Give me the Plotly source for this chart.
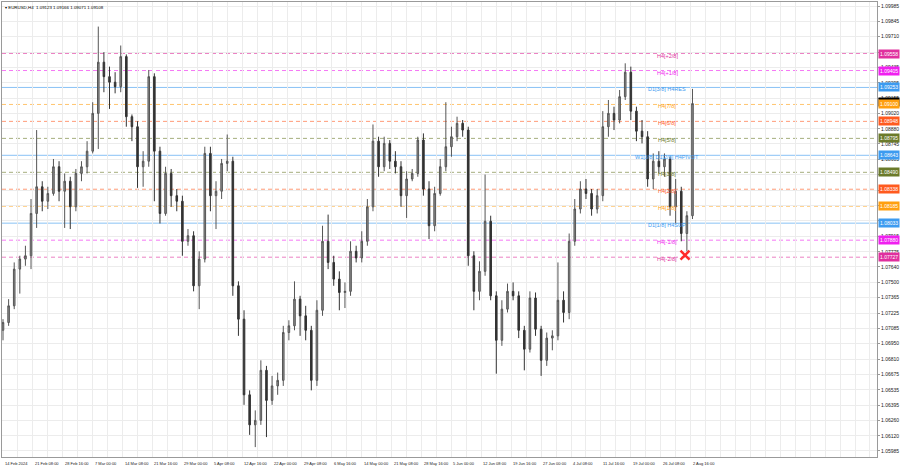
import plotly.graph_objects as go

# ---------------- data ----------------
opens = [1.0707,1.0714,1.0729,1.0762,1.0771,1.0774,1.0812,1.0836,1.0823,1.0830,
         1.0854,1.0832,1.0841,1.0818,1.0848,1.0854,1.0868,1.0902,1.0948,1.0935,
         1.0930,1.0926,1.0953,1.0899,1.0890,1.0854,1.0859,1.0935,1.0868,1.0812,
         1.0848,1.0828,1.0823,1.0787,1.0792,1.0747,1.0771,1.0866,1.0828,1.0832,
         1.0857,1.0859,1.0747,1.0717,1.0649,1.0622,1.0626,1.0671,1.0644,1.0657,
         1.0662,1.0705,1.0711,1.0735,1.0720,1.0707,1.0662,1.0725,1.0787,1.0768,
         1.0753,1.0741,1.0742,1.0778,1.0772,1.0787,1.0818,1.0877,1.0854,1.0875,
         1.0859,1.0854,1.0828,1.0843,1.0848,1.0878,1.0834,1.0801,1.0830,1.0854,
         1.0872,1.0881,1.0893,1.0887,1.0774,1.0742,1.0760,1.0805,1.0738,1.0698,
         1.0726,1.0742,1.0738,1.0707,1.0690,1.0736,1.0708,1.0680,1.0700,1.0702,
         1.0734,1.0723,1.0787,1.0816,1.0834,1.0830,1.0816,1.0828,1.0890,1.0902,
         1.0896,1.0917,1.0939,1.0904,1.0886,1.0881,1.0843,1.0859,1.0854,1.0861,
         1.0818,1.0832,1.0794,1.0810]
highs = [1.0717,1.0735,1.0768,1.0774,1.0783,1.0825,1.0887,1.0841,1.0836,1.0861,
         1.0859,1.0848,1.0845,1.0852,1.0859,1.0877,1.0912,1.0980,1.0957,1.0944,
         1.0939,1.0963,1.0955,1.0901,1.0895,1.0868,1.0941,1.0938,1.0872,1.0854,
         1.0852,1.0834,1.0828,1.0798,1.0796,1.0778,1.0872,1.0872,1.0841,1.0861,
         1.0883,1.0863,1.0751,1.0725,1.0653,1.0635,1.0680,1.0675,1.0666,1.0669,
         1.0711,1.0716,1.0751,1.0738,1.0729,1.0711,1.0734,1.0801,1.0811,1.0774,
         1.0760,1.0750,1.0787,1.0783,1.0796,1.0825,1.0892,1.0881,1.0881,1.0878,
         1.0868,1.0859,1.0850,1.0852,1.0881,1.0884,1.0841,1.0836,1.0861,1.0912,
         1.0890,1.0899,1.0896,1.0890,1.0778,1.0769,1.0847,1.0810,1.0742,1.0734,
         1.0749,1.0750,1.0742,1.0711,1.0742,1.0741,1.0711,1.0705,1.0707,1.0768,
         1.0742,1.0794,1.0825,1.0841,1.0843,1.0834,1.0834,1.0904,1.0914,1.0908,
         1.0923,1.0947,1.0944,1.0908,1.0896,1.0886,1.0866,1.0868,1.0866,1.0863,
         1.0843,1.0836,1.0814,1.0924]
lows = [1.0698,1.0711,1.0726,1.0740,1.0765,1.0762,1.0799,1.0814,1.0816,1.0828,
        1.0823,1.0799,1.0798,1.0814,1.0841,1.0848,1.0866,1.0870,1.0921,1.0906,
        1.0920,1.0921,1.0890,1.0877,1.0835,1.0836,1.0854,1.0823,1.0803,1.0810,
        1.0818,1.0814,1.0774,1.0783,1.0742,1.0726,1.0768,1.0814,1.0798,1.0825,
        1.0850,1.0738,1.0702,1.0640,1.0613,1.0602,1.0622,1.0611,1.0640,1.0649,
        1.0657,1.0698,1.0707,1.0702,1.0698,1.0653,1.0657,1.0720,1.0762,1.0747,
        1.0725,1.0727,1.0738,1.0768,1.0768,1.0783,1.0814,1.0845,1.0850,1.0852,
        1.0848,1.0818,1.0808,1.0841,1.0845,1.0828,1.0789,1.0796,1.0828,1.0850,
        1.0863,1.0877,1.0881,1.0765,1.0725,1.0734,1.0756,1.0734,1.0668,1.0693,
        1.0723,1.0734,1.0700,1.0671,1.0687,1.0702,1.0666,1.0675,1.0689,1.0698,
        1.0714,1.0717,1.0783,1.0812,1.0825,1.0810,1.0812,1.0823,1.0881,1.0887,
        1.0893,1.0914,1.0896,1.0877,1.0875,1.0836,1.0834,1.0848,1.0845,1.0810,
        1.0803,1.0787,1.0778,1.0807]
closes = [1.0714,1.0729,1.0762,1.0771,1.0774,1.0812,1.0836,1.0823,1.0830,1.0854,
          1.0832,1.0841,1.0818,1.0848,1.0854,1.0868,1.0902,1.0948,1.0935,1.0930,
          1.0926,1.0953,1.0899,1.0890,1.0854,1.0859,1.0935,1.0868,1.0812,1.0848,
          1.0828,1.0823,1.0787,1.0792,1.0747,1.0771,1.0866,1.0828,1.0832,1.0857,
          1.0859,1.0747,1.0717,1.0649,1.0622,1.0626,1.0671,1.0644,1.0657,1.0662,
          1.0705,1.0711,1.0735,1.0720,1.0707,1.0662,1.0725,1.0787,1.0768,1.0753,
          1.0741,1.0742,1.0778,1.0772,1.0787,1.0818,1.0877,1.0854,1.0875,1.0859,
          1.0854,1.0828,1.0843,1.0848,1.0878,1.0834,1.0801,1.0830,1.0854,1.0872,
          1.0881,1.0893,1.0887,1.0774,1.0742,1.0760,1.0805,1.0738,1.0698,1.0726,
          1.0742,1.0738,1.0707,1.0690,1.0736,1.0708,1.0680,1.0700,1.0702,1.0734,
          1.0723,1.0787,1.0816,1.0834,1.0830,1.0816,1.0828,1.0890,1.0902,1.0896,
          1.0917,1.0939,1.0904,1.0886,1.0881,1.0843,1.0859,1.0854,1.0861,1.0818,
          1.0832,1.0794,1.0810,1.09108]
bars = [6 * i for i in range(len(closes))]  # bar index of each (aggregated) candle

date_labels = ['14 Feb 2024', '21 Feb 08:00', '28 Feb 16:00', '7 Mar 00:00', '14 Mar 08:00',
               '21 Mar 16:00', '29 Mar 00:00', '5 Apr 08:00', '12 Apr 16:00', '22 Apr 00:00',
               '29 Apr 08:00', '6 May 16:00', '14 May 00:00', '21 May 08:00', '28 May 16:00',
               '5 Jun 00:00', '12 Jun 08:00', '19 Jun 16:00', '27 Jun 00:00', '4 Jul 08:00',
               '11 Jul 16:00', '19 Jul 00:00', '26 Jul 08:00', '2 Aug 16:00']
date_label_bars = [32 * k for k in range(len(date_labels))]

price_ticks = [1.09985, 1.09845, 1.09710, 1.09570, 1.09435, 1.09295, 1.09155, 1.09020,
               1.08880, 1.08745, 1.08605, 1.08470, 1.08330, 1.08195, 1.08055, 1.07915,
               1.07775, 1.07640, 1.07500, 1.07365, 1.07225, 1.07085, 1.06950, 1.06810,
               1.06675, 1.06535, 1.06395, 1.06260, 1.06120, 1.05985]
# tick labels hidden behind the coloured price boxes in the picture
hidden_ticks = [1.09570, 1.08470, 1.08330, 1.08195, 1.08055]

level_prices = [1.09558, 1.09405, 1.09253, 1.09100, 1.08948, 1.08795, 1.08643,
                1.08490, 1.08338, 1.08185, 1.08033, 1.07880, 1.07727]
level_names = ['H4[+2/8]', 'H4[+1/8]', 'D1[3/8] H4RES', 'H4[7/8]', 'H4[6/8]', 'H4[5/8]',
               'W1[3/8] D1[2/8] H4PIVOT', 'H4[3/8]', 'H4[2/8]', 'H4[1/8]',
               'D1[1/8] H4SUP', 'H4[-1/8]', 'H4[-2/8]']
level_colors = ['#e0309e', '#f020f0', '#3d9bf0', '#ff9f10', '#ff5a1f', '#6b7a2a', '#3d9bf0',
                '#6b7a2a', '#ff5a1f', '#ff9f10', '#3d9bf0', '#f020f0', '#e0309e']
level_dash = ['4px,3px', '4px,3px', 'solid', '4px,3px', '4px,3px', '4px,3px', 'solid',
              '4px,3px', '4px,3px', '4px,3px', 'solid', '4px,3px', '4px,3px']

title_text = 'EURUSD,H4  1.09123 1.09166 1.09071 1.09108'
last_price = 1.09108
signal_bar = 730
signal_price = 1.07745

# ---------------- figure ----------------
FONT = 'Liberation Sans, Arial, sans-serif'
fig = go.Figure()

fig.add_trace(go.Candlestick(
    x=bars, open=opens, high=highs, low=lows, close=closes,
    increasing=dict(line=dict(color='#555555', width=1), fillcolor='#909090'),
    decreasing=dict(line=dict(color='#333333', width=1), fillcolor='#333333'),
    whiskerwidth=0, showlegend=False, hoverinfo='skip'))

fig.add_trace(go.Scatter(
    x=[signal_bar], y=[signal_price], mode='markers',
    marker=dict(symbol='x-thin', size=9, line=dict(color='#ff2a2a', width=2.5)),
    showlegend=False, hoverinfo='skip'))

shapes = []
annotations = []
for p, name, col, dash in zip(level_prices, level_names, level_colors, level_dash):
    shapes.append(dict(type='line', xref='paper', x0=0, x1=1, yref='y', y0=p, y1=p,
                       line=dict(color=col, width=1, dash=dash), opacity=0.6, layer='below'))
    annotations.append(dict(x=711, y=p, xref='x', yref='y', text=name, showarrow=False,
                            xanchor='center', yanchor='middle', yshift=-2,
                            font=dict(family=FONT, size=5.5, color=col)))

# right-axis price boxes
annotations.append(dict(x=1, y=last_price, xref='paper', yref='y', text=f'{last_price:.5f}',
                        showarrow=False, xanchor='left', yanchor='middle', xshift=1, yshift=2,
                        bgcolor='#000000', borderpad=1,
                        font=dict(family=FONT, size=5, color='white')))
for p, col in zip(level_prices, level_colors):
    annotations.append(dict(x=1, y=p, xref='paper', yref='y', text=f'{p:.5f}',
                            showarrow=False, xanchor='left', yanchor='middle', xshift=1,
                            bgcolor=col, borderpad=1,
                            font=dict(family=FONT, size=5, color='white')))

# date labels (left aligned at their bar, MetaTrader style)
for b, t in zip(date_label_bars, date_labels):
    annotations.append(dict(x=b, y=0, xref='x', yref='paper', text=t, showarrow=False,
                            xanchor='left', yanchor='top', yshift=-2,
                            font=dict(family=FONT, size=4, color='#202020')))

annotations.append(dict(x=0, y=1, xref='paper', yref='paper', text='▾ ' + title_text,
                        showarrow=False, xanchor='left', yanchor='top', xshift=1, yshift=-1,
                        font=dict(family=FONT, size=4.4, color='#000000')))

fig.update_layout(
    width=900, height=468,
    margin=dict(l=1, r=22, t=1, b=11),
    paper_bgcolor='white', plot_bgcolor='white',
    shapes=shapes, annotations=annotations,
    boxgap=0.6,
    xaxis=dict(range=[-1.07, 935.5], rangeslider=dict(visible=False),
               tick0=0, dtick=16, showgrid=True, gridcolor='#ececec', gridwidth=1,
               showticklabels=False, zeroline=False,
               showline=True, linecolor='#9a9a9a', mirror=True, ticks=''),
    yaxis=dict(range=[1.05931, 1.10021], side='right',
               tickmode='array', tickvals=price_ticks,
               ticktext=['' if v in hidden_ticks else f'{v:.5f}' for v in price_ticks],
               showgrid=True, gridcolor='#ececec', gridwidth=1, zeroline=False,
               showline=True, linecolor='#9a9a9a', mirror=True,
               ticks='outside', ticklen=2, tickcolor='#9a9a9a',
               tickfont=dict(family=FONT, size=5, color='#202020')),
)

fig.write_html('out.html', config={'displayModeBar': False},
               post_script="document.body.style.margin='0px';document.body.style.overflow='hidden';")
